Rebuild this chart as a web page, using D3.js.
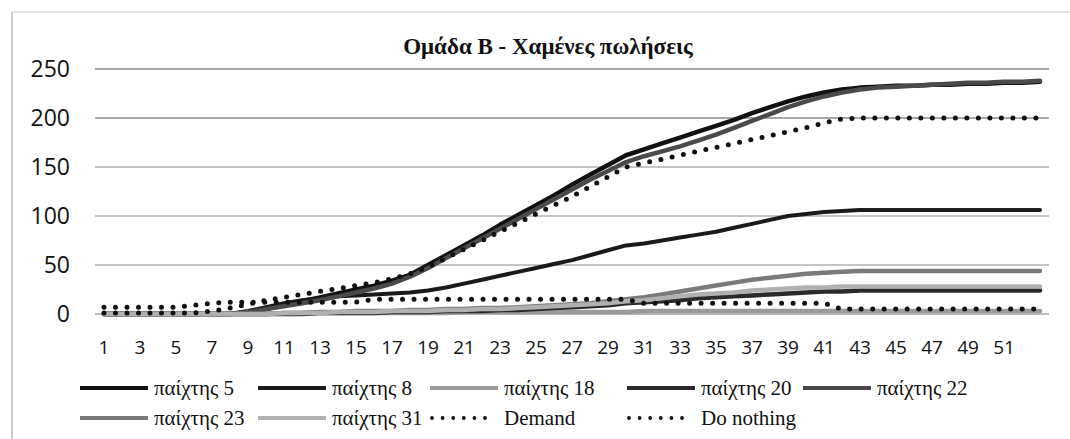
<!DOCTYPE html>
<html>
<head>
<meta charset="utf-8">
<script src="https://cdn.jsdelivr.net/npm/d3@7"></script>
<style>
  body { margin: 0; background: #fff; }
  svg { display: block; }
</style>
</head>
<body>
<div id="chart"></div>
<script>
// weeks 1..53
const weeks = [1,2,3,4,5,6,7,8,9,10,11,12,13,14,15,16,17,18,19,20,21,22,23,24,25,26,27,28,29,30,
  31,32,33,34,35,36,37,38,39,40,41,42,43,44,45,46,47,48,49,50,51,52,53];
const xTickLabels = [1,3,5,7,9,11,13,15,17,19,21,23,25,27,29,31,33,35,37,39,41,43,45,47,49,51];
const yTicks = [0, 50, 100, 150, 200, 250];

const player5 = [0,0,0,0,0,0,0,0, 2,5,9,13,17,21,25,29,34,40,
  50,60,70,80,91,101,111,121,132,142,152,162,
  168,174,180,186,192,198,205,211,217,222,226,229,
  231,232,233,233,234,234,235,235,236,236,237];
const player8 = [0,0,0,0,0,0,0,0, 3,7,11,14,16,18,19,20,21,22,
  24,27,31,35,39,43,47,51,55,60,65,70,
  72,75,78,81,84,88,92,96,100,102,104,105,
  106,106,106,106,106,106,106,106,106,106,106];
const player18 = [0,0,0,0,0,0,0,0,0,0, 1,1,1,1,1,1,1,1,1,1,
  2,2,2,2,2,2,2,2,2,2,
  3,3,3,3,3,3,3,3,3,3,3,3,3,3,3,3,3,3,3,3,3,3,3];
const player20 = [0,0,0,0,0,0,0,0,0,0, 0,0,1,1,1,1,2,2,
  2,3,3,3,4,4,5,6,7,8,9,11,
  12,13,14,16,17,18,19,20,21,22,23,23,
  24,24,24,24,24,24,24,24,24,24,24];
const player22 = [0,0,0,0,0,0,0,0, 2,5,8,11,14,18,22,26,31,38,
  47,57,67,77,87,97,107,117,127,137,146,155,
  161,166,171,177,183,190,197,204,211,217,222,226,
  229,231,232,233,234,235,236,236,237,237,238];
const player23 = [0,0,0,0,0,0,0,0,0,0, 1,1,2,2,3,3,3,4,
  4,5,5,6,6,7,8,9,10,11,13,15,
  17,20,23,26,29,32,35,37,39,41,42,43,
  44,44,44,44,44,44,44,44,44,44,44];
const player31 = [0,0,0,0,0,0,0,0,0,0, 1,1,1,2,2,2,3,3,
  3,4,4,5,5,6,7,8,9,10,11,13,
  14,16,18,20,21,22,24,25,26,27,27,28,
  28,28,28,28,28,28,28,28,28,28,28];
const demand = [1,1,1,1,1,1, 3,6,10,14,17,20,23,26,29,32,36,41,
  48,57,66,75,84,93,102,111,120,130,140,150,
  154,158,162,166,170,174,178,182,186,190,195,199,
  200,200,200,200,200,200,200,200,200,200,200];
const doNothing = [7,7,7,7,7,9,11,12,12,12,12,12,12,12,12,
  15,15,15,15,15,15,15,15,15,15,15,15,15,15,15,
  11,11,11,11,11,11,11,11,11,11,11,
  5,5,5,5,5,5,5,5,5,5,5,5];

const seriesNames = ["παίχτης 5", "παίχτης 8", "παίχτης 18", "παίχτης 20", "παίχτης 22",
  "παίχτης 23", "παίχτης 31", "Demand", "Do nothing"];
const seriesValues = [player5, player8, player18, player20, player22, player23, player31, demand, doNothing];

const styles = {
  "παίχτης 5":  { color: "#111", width: 4.5 },
  "παίχτης 8":  { color: "#1a1a1a", width: 4 },
  "παίχτης 18": { color: "#9a9a9a", width: 4.5 },
  "παίχτης 20": { color: "#2a2a2a", width: 4.5 },
  "παίχτης 22": { color: "#4a4a4a", width: 4.5 },
  "παίχτης 23": { color: "#7a7a7a", width: 4.5 },
  "παίχτης 31": { color: "#b0b0b0", width: 4.5 },
  "Demand":     { color: "#111", width: 5, dots: true },
  "Do nothing": { color: "#111", width: 5, dots: true }
};

const W = 1070, H = 439;
const svg = d3.select("#chart").append("svg")
  .attr("width", W)
  .attr("height", H);

// frame (only top and left edges visible in the scan)
svg.append("line").attr("x1", 12).attr("x2", W).attr("y1", 12).attr("y2", 12)
  .attr("stroke", "#c8c8c8").attr("stroke-width", 1.2);
svg.append("line").attr("x1", 12).attr("x2", 12).attr("y1", 12).attr("y2", H)
  .attr("stroke", "#aaa").attr("stroke-width", 1.2);

const x = d3.scaleBand().domain(weeks).range([95, 1049]);
const y = d3.scaleLinear().domain([0, 250]).range([314, 69]);
const cx = d => x(d) + x.bandwidth() / 2;

// title
svg.append("text")
  .attr("x", 548).attr("y", 54)
  .attr("text-anchor", "middle")
  .attr("font-family", "'Liberation Serif', 'DejaVu Serif', serif")
  .attr("font-weight", "bold")
  .attr("font-size", 23)
  .attr("fill", "#111")
  .text("Ομάδα Β - Χαμένες πωλήσεις");

// gridlines
svg.append("g").selectAll("line")
  .data(yTicks)
  .enter()
  .append("line")
  .attr("x1", 95).attr("x2", 1049)
  .attr("y1", d => y(d)).attr("y2", d => y(d))
  .attr("stroke", d => d === 0 ? "#777" : "#8a8a8a")
  .attr("stroke-width", d => d >= 200 ? 1.3 : 1);

// axes
let yAxis = svg.append("g")
  .attr("transform", "translate(95,0)")
  .call(d3.axisLeft(y).tickValues(yTicks).tickSize(0).tickPadding(25));
yAxis.select(".domain").remove();
yAxis.selectAll("text")
  .attr("font-family", "'Open Sans', sans-serif")
  .attr("font-size", 23)
  .attr("fill", "#111");

let xAxis = svg.append("g")
  .attr("transform", "translate(0,314)")
  .call(d3.axisBottom(x).tickValues(xTickLabels).tickSize(0).tickPadding(27));
xAxis.select(".domain").remove();
xAxis.selectAll("text")
  .attr("font-family", "'Open Sans', sans-serif")
  .attr("font-size", 19)
  .attr("fill", "#111");

// series
const line = d3.line()
  .x((d, i) => cx(weeks[i]))
  .y(d => y(d));

svg.append("g").selectAll("path")
  .data(seriesNames)
  .enter()
  .append("path")
  .attr("d", (name, i) => line(seriesValues[i]))
  .attr("fill", "none")
  .attr("stroke", name => styles[name].color)
  .attr("stroke-width", name => styles[name].width)
  .attr("stroke-linecap", "round")
  .attr("stroke-linejoin", "round")
  .attr("stroke-dasharray", name => styles[name].dots ? "0 11.5" : null);

// legend
const legendRows = [[80, 258, 430, 627, 803], [80, 258, 430, 627]];
const legendPos = [];
legendRows.forEach((row, r) => row.forEach(px => legendPos.push({ x: px, y: 388 + r * 30 })));

let legend = svg.append("g").selectAll("g")
  .data(seriesNames)
  .enter()
  .append("g")
  .attr("transform", (d, i) => `translate(${legendPos[i].x},${legendPos[i].y})`);

legend.append("line")
  .attr("x1", d => styles[d].dots ? 2 : 0).attr("x2", d => styles[d].dots ? 56 : 68)
  .attr("y1", 0).attr("y2", 0)
  .attr("stroke", d => styles[d].color)
  .attr("stroke-width", d => styles[d].dots ? 3.8 : 4)
  .attr("stroke-linecap", d => styles[d].dots ? "round" : "butt")
  .attr("stroke-dasharray", d => styles[d].dots ? "0 10.6" : null);

legend.append("text")
  .attr("x", 74)
  .attr("y", 0)
  .attr("dy", "0.32em")
  .attr("font-family", "'Liberation Serif', 'DejaVu Serif', serif")
  .attr("font-size", 21)
  .attr("fill", "#111")
  .text(d => d);
</script>
</body>
</html>
